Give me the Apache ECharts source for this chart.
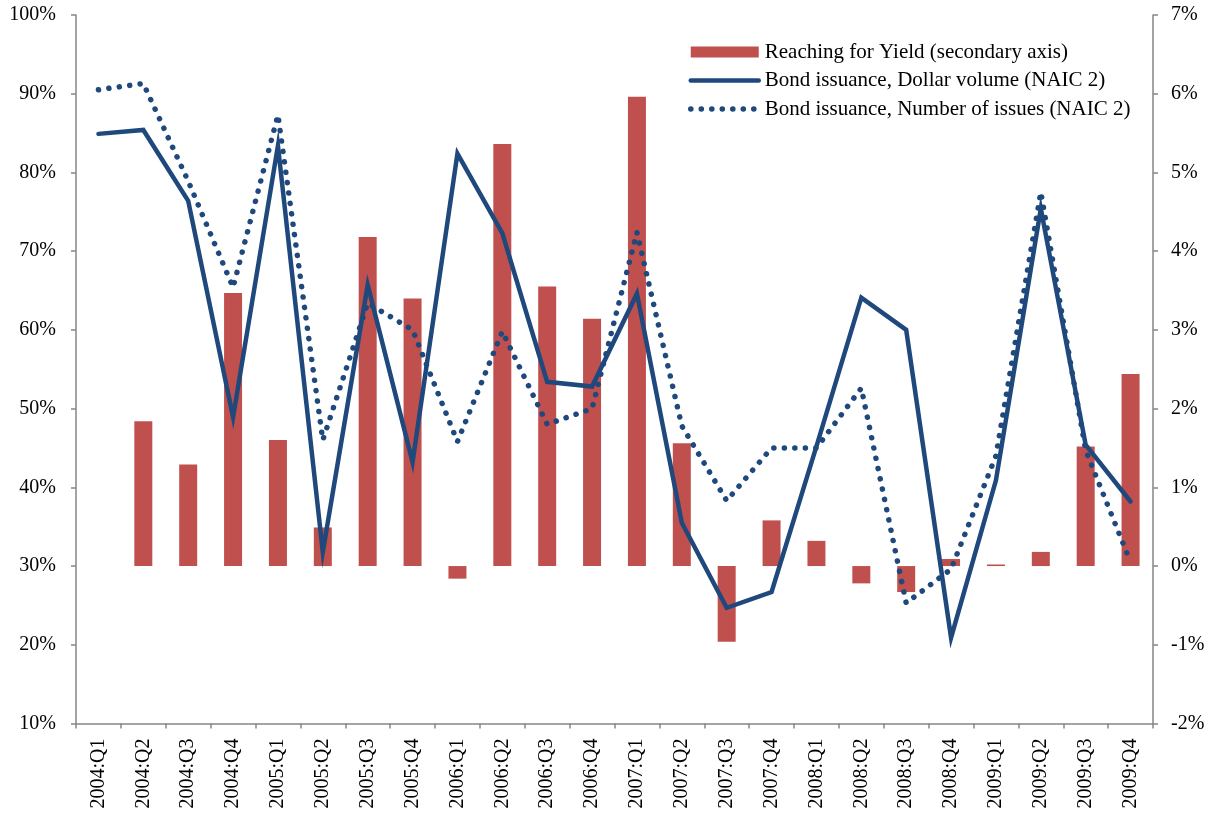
<!DOCTYPE html>
<html>
<head>
<meta charset="utf-8">
<script src="https://cdn.jsdelivr.net/npm/echarts@6/dist/echarts.min.js"></script>
<style>
  html, body { margin: 0; padding: 0; background: #fff; }
  #chart { width: 1211px; height: 814px; }
</style>
</head>
<body>
<div id="chart"></div>
<script>
const categories = ['2004:Q1','2004:Q2','2004:Q3','2004:Q4','2005:Q1','2005:Q2','2005:Q3','2005:Q4',
  '2006:Q1','2006:Q2','2006:Q3','2006:Q4','2007:Q1','2007:Q2','2007:Q3','2007:Q4',
  '2008:Q1','2008:Q2','2008:Q3','2008:Q4','2009:Q1','2009:Q2','2009:Q3','2009:Q4'];

// Reaching for Yield (secondary axis), percent
const reachingForYield = [null, 1.84, 1.29, 3.47, 1.60, 0.49, 4.18, 3.40,
  -0.16, 5.36, 3.55, 3.14, 5.96, 1.56, -0.96, 0.58,
  0.32, -0.22, -0.33, 0.09, 0.02, 0.18, 1.52, 2.44];

// Bond issuance, Dollar volume (NAIC 2), percent
const dollarVolume = [84.9, 85.4, 76.4, 48.9, 83.4, 31.8, 65.7, 43.2,
  82.4, 72.3, 53.4, 52.8, 64.6, 35.5, 24.7, 26.7,
  45.2, 64.1, 60.0, 20.9, 40.9, 75.4, 45.4, 38.2];

// Bond issuance, Number of issues (NAIC 2), percent
const numberOfIssues = [90.5, 91.3, 78.9, 65.4, 87.3, 46.0, 63.4, 60.0,
  45.8, 59.8, 48.0, 50.0, 72.4, 47.8, 38.3, 45.0,
  45.0, 52.6, 25.3, 29.6, 44.0, 77.5, 44.7, 30.5];

const leftTicks = { min: 10, max: 100, interval: 10 };
const rightTicks = { min: -2, max: 7, interval: 1 };

const FONT = '"Liberation Serif", "Times New Roman", serif';
const AXIS_COLOR = '#868686';
const BLUE = '#1F497D';
const RED = '#C0504D';

const solidStyle = { color: BLUE, width: 4.5, cap: 'round', join: 'miter' };
const dottedStyle = { color: BLUE, width: 5.5, type: [0.1, 10.4], cap: 'round', join: 'round' };

const chart = echarts.init(document.getElementById('chart'), null, { renderer: 'canvas' });

chart.setOption({
  animation: false,
  backgroundColor: '#ffffff',
  textStyle: { fontFamily: FONT },
  grid: { left: 76, right: 58, top: 15, bottom: 90.5, containLabel: false },
  legend: {
    left: 688,
    top: 41.5,
    padding: 0,
    orient: 'vertical',
    itemWidth: 68,
    itemHeight: 11,
    itemGap: 7.5,
    textStyle: { fontFamily: FONT, fontSize: 21, color: '#000', lineHeight: 21, padding: [0, 0, 0, 1] },
    data: [
      { name: 'Reaching for Yield (secondary axis)', icon: 'rect' },
      { name: 'Bond issuance, Dollar volume (NAIC 2)', itemStyle: { opacity: 0 }, lineStyle: solidStyle },
      { name: 'Bond issuance, Number of issues (NAIC 2)', itemStyle: { opacity: 0 }, lineStyle: dottedStyle }
    ]
  },
  xAxis: {
    type: 'category',
    data: categories,
    boundaryGap: true,
    axisLine: { show: true, onZero: false, lineStyle: { color: AXIS_COLOR, width: 1.5 } },
    axisTick: { show: true, interval: 0, length: 5, lineStyle: { color: AXIS_COLOR, width: 1.5 } },
    axisLabel: { interval: 0, rotate: 90, margin: 15, fontFamily: FONT, fontSize: 20, color: '#000' },
    splitLine: { show: false }
  },
  yAxis: [
    {
      type: 'value',
      position: 'left',
      min: leftTicks.min, max: leftTicks.max, interval: leftTicks.interval,
      axisLine: { show: true, onZero: false, lineStyle: { color: AXIS_COLOR, width: 1.5 } },
      axisTick: { show: true, length: 5, lineStyle: { color: AXIS_COLOR, width: 1.5 } },
      axisLabel: { formatter: '{value}%', margin: 20, fontFamily: FONT, fontSize: 20, color: '#000' },
      splitLine: { show: false }
    },
    {
      type: 'value',
      position: 'right',
      min: rightTicks.min, max: rightTicks.max, interval: rightTicks.interval,
      axisLine: { show: true, onZero: false, lineStyle: { color: AXIS_COLOR, width: 1.5 } },
      axisTick: { show: true, length: 5, lineStyle: { color: AXIS_COLOR, width: 1.5 } },
      axisLabel: { formatter: '{value}%', margin: 18, fontFamily: FONT, fontSize: 20, color: '#000' },
      splitLine: { show: false }
    }
  ],
  series: [
    {
      name: 'Reaching for Yield (secondary axis)',
      type: 'bar',
      yAxisIndex: 1,
      data: reachingForYield,
      barWidth: 18,
      itemStyle: { color: RED },
      z: 1
    },
    {
      name: 'Bond issuance, Dollar volume (NAIC 2)',
      type: 'line',
      yAxisIndex: 0,
      data: dollarVolume,
      symbol: 'none',
      lineStyle: solidStyle,
      itemStyle: { color: BLUE },
      z: 3
    },
    {
      name: 'Bond issuance, Number of issues (NAIC 2)',
      type: 'line',
      yAxisIndex: 0,
      data: numberOfIssues,
      symbol: 'none',
      lineStyle: dottedStyle,
      itemStyle: { color: BLUE },
      z: 2
    }
  ]
});
</script>
</body>
</html>
